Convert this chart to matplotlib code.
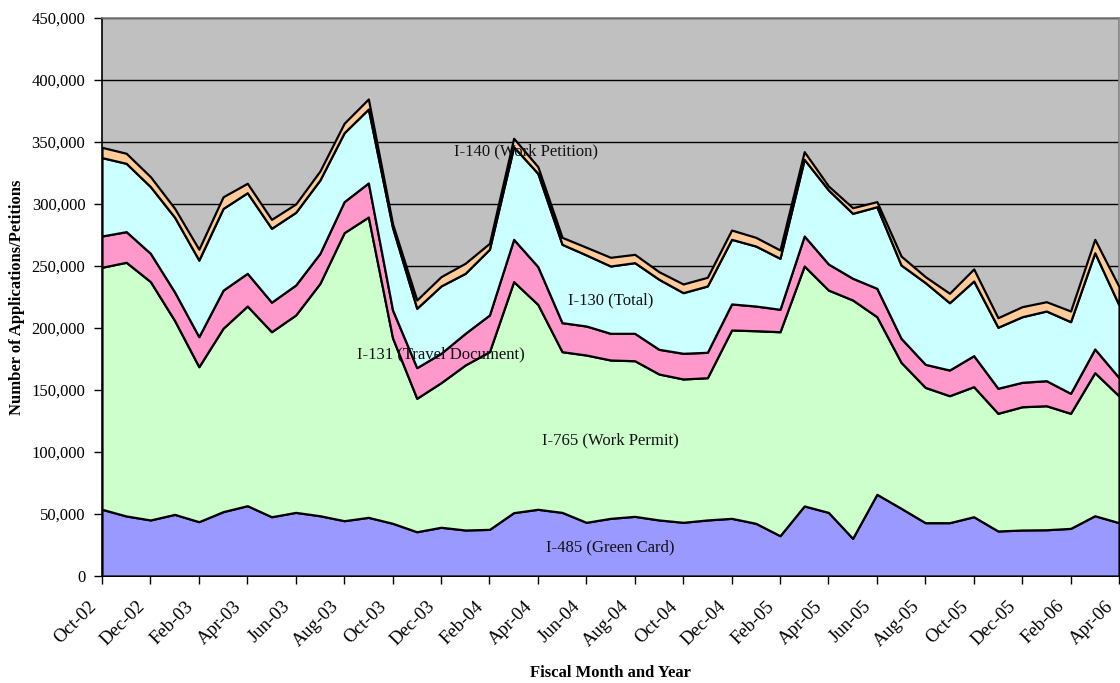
import matplotlib
matplotlib.use("Agg")
import matplotlib.pyplot as plt
import matplotlib.transforms as mtransforms
from matplotlib.ticker import FuncFormatter, MultipleLocator

# Fiscal months, October 2002 through April 2006
months = [
    "Oct-02", "Nov-02", "Dec-02", "Jan-03", "Feb-03", "Mar-03", "Apr-03",
    "May-03", "Jun-03", "Jul-03", "Aug-03", "Sep-03", "Oct-03", "Nov-03",
    "Dec-03", "Jan-04", "Feb-04", "Mar-04", "Apr-04", "May-04", "Jun-04",
    "Jul-04", "Aug-04", "Sep-04", "Oct-04", "Nov-04", "Dec-04", "Jan-05",
    "Feb-05", "Mar-05", "Apr-05", "May-05", "Jun-05", "Jul-05", "Aug-05",
    "Sep-05", "Oct-05", "Nov-05", "Dec-05", "Jan-06", "Feb-06", "Mar-06",
    "Apr-06",
]

# Monthly receipts per form type
i485 = [53800, 48400, 45200, 49700, 43800, 51900, 56700, 47800, 51300, 48600,
        44600, 47300, 42500, 35700, 39300, 37100, 37600, 51100, 53800, 51300,
        43300, 46500, 48100, 45200, 43300, 45200, 46500, 42500, 32500, 56500,
        51300, 30400, 65900, 54600, 43000, 43000, 47800, 36300, 37100, 37300,
        38400, 48600, 43000]
i765 = [195200, 204600, 192200, 156300, 125000, 147900, 161000, 149200, 159200,
        187400, 232300, 242200, 149500, 107600, 116600, 133100, 143300, 186300,
        165200, 129600, 134900, 127700, 125500, 117700, 115600, 114700, 151900,
        155300, 164500, 193500, 179300, 192200, 143200, 117700, 109100, 102400,
        104900, 94900, 99400, 100000, 92800, 115400, 102200]
i131 = [25200, 24700, 22800, 23000, 24200, 30700, 26400, 23800, 24200, 24200,
        25000, 27500, 22500, 24700, 23700, 25500, 29600, 34100, 30500, 23400,
        23400, 21500, 22100, 19900, 20700, 20500, 21000, 19900, 18100, 24200,
        21000, 17500, 22900, 19400, 18600, 20700, 25000, 20200, 19700, 20200,
        16100, 19100, 14700]
i130 = [63200, 55100, 53800, 60300, 61800, 65900, 65000, 59600, 58600, 59200,
        55600, 59600, 66500, 47900, 54300, 48400, 53000, 74700, 75200, 63200,
        57300, 54300, 57000, 56500, 48900, 53500, 52100, 48400, 41100, 61800,
        59700, 52400, 65800, 59100, 65900, 54300, 60200, 49200, 52900, 56200,
        57800, 77600, 58600]
i140 = [8300, 8100, 8000, 7200, 8700, 9400, 7600, 7200, 6700, 7200,
        7600, 8100, 3000, 6700, 7500, 8100, 4800, 6800, 5400, 5600,
        6200, 7000, 6700, 6100, 7000, 7000, 7500, 7000, 6700, 6200,
        3200, 4500, 4100, 7200, 4800, 7600, 9700, 7700, 8100, 7500,
        8600, 10800, 14800]

series_labels = ["I-485 (Green Card)", "I-765 (Work Permit)",
                 "I-131 (Travel Document)", "I-130 (Total)",
                 "I-140 (Work Petition)"]
series_colors = ["#9999FF", "#CCFFCC", "#FF99CC", "#CCFFFF", "#FFCC99"]

serif = ["Liberation Serif", "DejaVu Serif"]
plt.rcParams["font.family"] = serif

fig = plt.figure(figsize=(11.2, 6.83), dpi=100)
fig.patch.set_facecolor("white")
ax = fig.add_axes([102 / 1120, 1 - 576 / 683, 1017 / 1120, 558 / 683])
ax.set_facecolor("#C0C0C0")

x = list(range(len(months)))
ax.stackplot(x, i485, i765, i131, i130, i140, colors=series_colors,
             edgecolor="black", linewidth=1.6, zorder=3)

ax.set_xlim(0, len(months) - 1)
ax.set_ylim(0, 450000)

# horizontal gridlines sit behind the stacked areas
ax.yaxis.set_major_locator(MultipleLocator(50000))
ax.yaxis.set_major_formatter(FuncFormatter(lambda v, p: f"{int(v):,}"))
ax.grid(axis="y", color="black", linewidth=1.0, zorder=1)
ax.set_axisbelow(True)

ax.set_xticks(x[::2])
ax.set_xticklabels(months[::2], rotation=45, ha="right", va="center",
                   rotation_mode="anchor", fontsize=13.5)
ax.tick_params(axis="x", direction="out", length=6, width=1, pad=14,
               colors="black")
ax.tick_params(axis="y", direction="out", length=6, width=1, pad=6,
               labelsize=12, colors="black")
shift = mtransforms.ScaledTranslation(-6 / 72, 0, fig.dpi_scale_trans)
for lbl in ax.get_xticklabels():
    lbl.set_transform(lbl.get_transform() + shift)

for side in ("left", "bottom"):
    ax.spines[side].set_color("black")
    ax.spines[side].set_linewidth(1.2)
for side in ("top", "right"):
    ax.spines[side].set_color("#808080")
    ax.spines[side].set_linewidth(1.2)

# series names written inside their bands
label_pos = [(21.0, 23400), (21.0, 109700), (14.0, 179000),
             (21.0, 222600), (17.5, 342700)]
for (lx, ly), name in zip(label_pos, series_labels):
    ax.text(lx, ly, name, ha="center", va="center", fontsize=12,
            color="#111111", zorder=5)

ax.set_xlabel("Fiscal Month and Year", fontsize=12, fontweight="bold",
              va="center")
ax.xaxis.set_label_coords(0.5, (576 - 673) / 558)
ax.set_ylabel("Number of Applications/Petitions", fontsize=12,
              fontweight="bold", va="center")
ax.yaxis.set_label_coords((17 - 102) / 1017, 0.5)

fig.savefig("out.png", dpi=100)
